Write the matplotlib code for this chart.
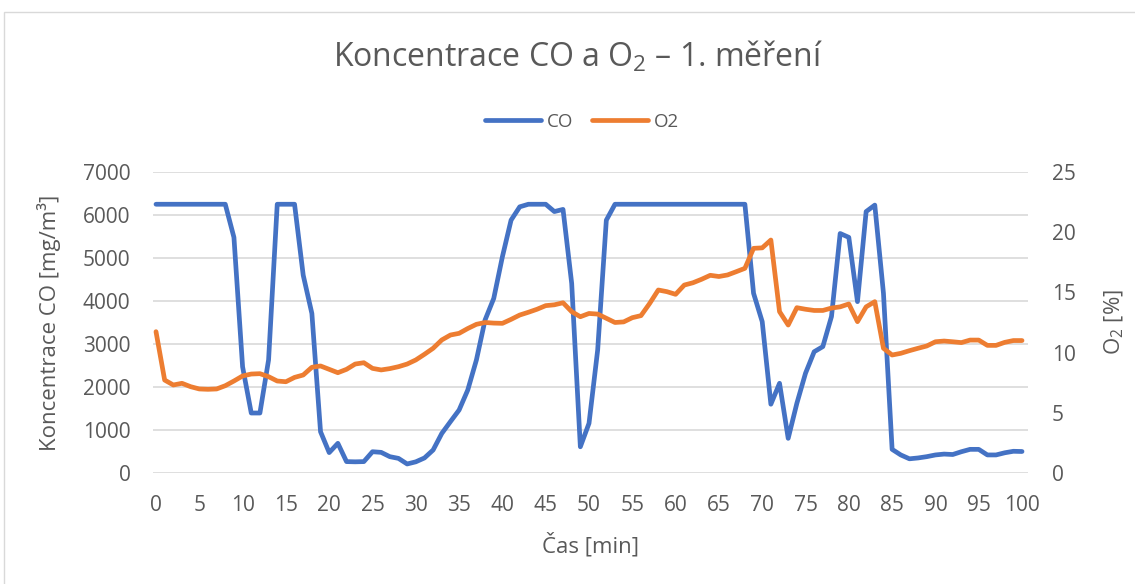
import matplotlib
matplotlib.use("Agg")
import matplotlib.pyplot as plt
from matplotlib.patches import Rectangle
import numpy as np

minutes = list(range(0, 101))

co = [6250, 6250, 6250, 6250, 6250, 6250, 6250, 6250, 6250, 5480,
      2470, 1395, 1395, 2630, 6250, 6250, 6250, 4600, 3710, 960,
      475, 690, 265, 260, 265, 495, 480, 380, 340, 210,
      260, 350, 535, 920, 1195, 1465, 1930, 2630, 3560, 4060,
      5030, 5880, 6190, 6250, 6250, 6250, 6080, 6130, 4410, 610,
      1155, 2860, 5880, 6250, 6250, 6250, 6250, 6250, 6250, 6250,
      6250, 6250, 6250, 6250, 6250, 6250, 6250, 6250, 6250, 4180,
      3520, 1600, 2086, 806, 1620, 2320, 2820, 2940, 3640, 5570,
      5480, 3985, 6080, 6230, 4180, 550, 420, 330, 350, 380,
      420, 440, 430, 495, 550, 550, 420, 420, 470, 505,
      500]

o2 = [11.74, 7.72, 7.31, 7.45, 7.17, 6.98, 6.95, 6.98, 7.25, 7.64,
      8.06, 8.22, 8.25, 8.00, 7.64, 7.58, 7.94, 8.14, 8.78, 8.89,
      8.61, 8.33, 8.61, 9.05, 9.16, 8.69, 8.56, 8.67, 8.83, 9.05,
      9.39, 9.86, 10.36, 11.05, 11.46, 11.60, 12.00, 12.35, 12.50, 12.45,
      12.43, 12.76, 13.12, 13.35, 13.60, 13.90, 13.97, 14.14, 13.40, 12.98,
      13.25, 13.20, 12.85, 12.50, 12.55, 12.90, 13.07, 14.08, 15.20, 15.06,
      14.84, 15.61, 15.80, 16.09, 16.42, 16.32, 16.45, 16.72, 17.00, 18.66,
      18.70, 19.35, 13.40, 12.29, 13.73, 13.60, 13.50, 13.50, 13.70, 13.80,
      14.04, 12.57, 13.80, 14.23, 10.36, 9.80, 9.94, 10.16, 10.36, 10.55,
      10.90, 10.96, 10.90, 10.83, 11.04, 11.04, 10.60, 10.60, 10.85, 11.00,
      11.00]

x_ticks = list(range(0, 101, 5))
co_ticks = list(range(0, 7001, 1000))
o2_ticks = list(range(0, 26, 5))

TXT = "#595959"
GRID = "#D9D9D9"
C_CO = "#4472C4"
C_O2 = "#ED7D31"

plt.rcParams['font.family'] = ['Open Sans', 'DejaVu Sans']
plt.rcParams['mathtext.fontset'] = 'custom'
plt.rcParams['mathtext.rm'] = 'Open Sans'
plt.rcParams['mathtext.it'] = 'Open Sans'

fig = plt.figure(figsize=(11.35, 5.84), dpi=100)
W, H = 1135, 584

# chart border
fig.patches.append(Rectangle((4 / W, -0.1), 1.2, (H - 12) / H + 0.1,
                             transform=fig.transFigure, fill=False,
                             edgecolor=GRID, linewidth=1.0))

left, right, top, bottom = 152.7, 1028, 172, 473
ax = fig.add_axes([left / W, (H - bottom) / H, (right - left) / W, (bottom - top) / H])
ax2 = ax.twinx()

ax.set_xlim(-0.38, 100.69)
ax.set_ylim(0, 7000)
ax2.set_ylim(0, 25)

ax.set_yticks(co_ticks)
ax2.set_yticks(o2_ticks)
ax.set_xticks(x_ticks)

ax.grid(axis='y', color=GRID, linewidth=1.2)
ax.set_axisbelow(True)

for a in (ax, ax2):
    for s in a.spines.values():
        s.set_visible(False)
    a.tick_params(length=0, colors=TXT, labelsize=15)

ax.tick_params(axis='y', pad=16)
ax2.tick_params(axis='y', pad=17)
ax.tick_params(axis='x', pad=16)

l1, = ax.plot(minutes, co, color=C_CO, linewidth=3.4, solid_capstyle='round',
              solid_joinstyle='round', label='CO', zorder=3)
l2, = ax2.plot(minutes, o2, color=C_O2, linewidth=3.4, solid_capstyle='round',
               solid_joinstyle='round', label='O2', zorder=3)

ax.set_ylabel('Koncentrace CO [mg/m³]', color=TXT, fontsize=16)
ax.yaxis.set_label_coords((61 - left) / (right - left), 0.5)
ax2.set_ylabel(r'O$\mathregular{_2}$ [%]', color=TXT, fontsize=16)
ax2.yaxis.set_label_coords((1103 - left) / (right - left), 0.5)
ax.set_xlabel('Čas [min]', color=TXT, fontsize=16)
ax.xaxis.set_label_coords(0.5, -(545 - bottom) / (bottom - top))
ax.xaxis.label.set_va('center')

fig.text(578 / W, (H - 67) / H, r'Koncentrace CO a O$\mathregular{_2}$ – 1. měření',
         ha='center', va='baseline', fontsize=23, color=TXT)

leg = fig.legend(handles=[l1, l2], loc='center', bbox_to_anchor=(582 / W, (H - 122) / H),
                 ncol=2, frameon=False, fontsize=13.5, handlelength=3.0,
                 handletextpad=0.3, columnspacing=1.0, labelcolor=TXT)

fig.savefig('out.png', dpi=100)
